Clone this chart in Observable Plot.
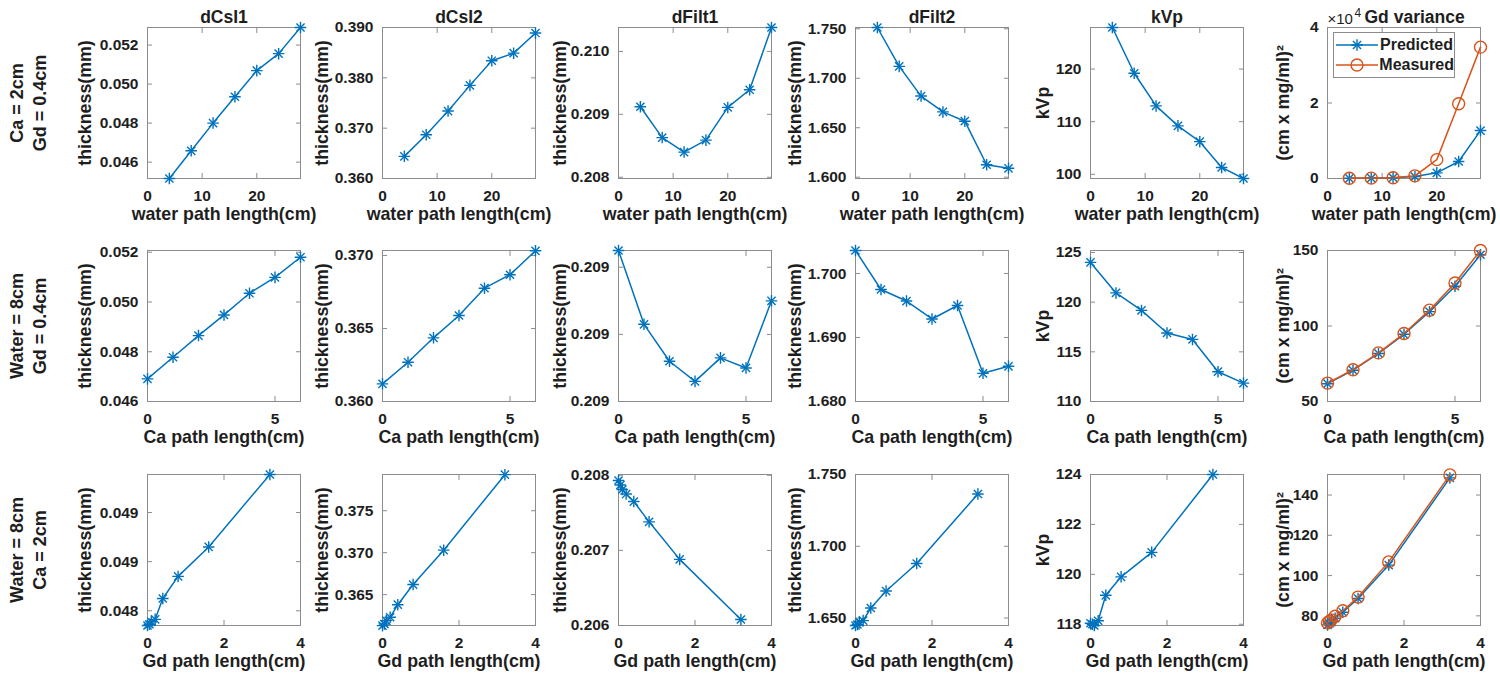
<!DOCTYPE html>
<html>
<head>
<meta charset="utf-8">
<script src="https://cdn.jsdelivr.net/npm/d3@7"></script>
<script src="https://cdn.jsdelivr.net/npm/@observablehq/plot@0.6"></script>
<style>
  body { margin: 0; background: #fff; font-family: "Liberation Sans", Arial, sans-serif; }
  #wrap { position: relative; width: 1500px; height: 683px; overflow: hidden; background: #fff; }
  #wrap svg.panel { position: absolute; overflow: visible; }
  #legend { position: absolute; background: #fff; border: 1px solid #8c8c8c; box-sizing: border-box;
            font: bold 16px "Liberation Sans", Arial, sans-serif; color: #1e1e1e; }
  #legend .item { display: flex; align-items: center; height: 20px; }
  #legend svg { display: block; }
</style>
</head>
<body>
<div id="wrap"></div>
<script>
// ---------------- data ----------------
const titles = ["dCsI1", "dCsI2", "dFilt1", "dFilt2", "kVp", "Gd variance"];
const xLabels = ["water path length(cm)", "Ca path length(cm)", "Gd path length(cm)"];
const yLabels = ["thickness(mm)", "thickness(mm)", "thickness(mm)", "thickness(mm)", "kVp", "(cm x mg/ml)\u00B2"];
const rowLabels = [["Ca = 2cm", "Gd = 0.4cm"], ["Water = 8cm", "Gd = 0.4cm"], ["Water = 8cm", "Ca = 2cm"]];
const seriesNames = ["Predicted", "Measured"];

// x values per row
const waterX = [4, 8, 12, 16, 20, 24, 28];
const caX = [0, 1, 2, 3, 4, 5, 6];
const gdX = [0, 0.05, 0.1, 0.2, 0.4, 0.8, 1.6, 3.2];

// x tick labels per row
const waterTicks = [0, 10, 20];
const caTicks = [0, 5];
const gdTicks = [0, 2, 4];

// Row 1: varying water (Ca = 2cm, Gd = 0.4cm)
const w_dCsI1 = [0.04516, 0.04658, 0.04800, 0.04935, 0.05069, 0.05156, 0.05290];
const w_dCsI2 = [0.3644, 0.3687, 0.3734, 0.3785, 0.3834, 0.3849, 0.3889];
const w_dFilt1 = [0.20912, 0.20863, 0.20840, 0.20859, 0.20911, 0.20939, 0.21038];
const w_dFilt2 = [1.7513, 1.712, 1.682, 1.666, 1.6566, 1.6126, 1.609];
const w_kVp = [127.9, 119.2, 113.0, 109.2, 106.2, 101.3, 99.2];
const w_varPred = [0.005, 0.01, 0.02, 0.05, 0.15, 0.45, 1.27];   // x10^4
const w_varMeas = [0.005, 0.01, 0.02, 0.07, 0.50, 1.98, 3.48];   // x10^4

// Row 2: varying Ca (Water = 8cm, Gd = 0.4cm)
const c_dCsI1 = [0.04691, 0.04778, 0.04865, 0.04948, 0.05035, 0.05099, 0.05180];
const c_dCsI2 = [0.36121, 0.36269, 0.36436, 0.36589, 0.36776, 0.36868, 0.37032];
const c_dFilt1 = [0.20925, 0.20903, 0.20892, 0.20886, 0.20893, 0.20890, 0.20910];
const c_dFilt2 = [1.7036, 1.6975, 1.6957, 1.6929, 1.6950, 1.6844, 1.6855];
const c_kVp = [124.0, 120.93, 119.17, 116.9, 116.25, 113.0, 111.85];
const c_varPred = [61.8, 70.7, 81.8, 94.5, 109.5, 126.3, 147.2];
const c_varMeas = [62.2, 71.0, 82.2, 95.0, 110.5, 128.5, 150.0];

// Row 3: varying Gd (Water = 8cm, Ca = 2cm)
const g_dCsI1 = [0.04808, 0.04809, 0.04811, 0.04813, 0.04830, 0.04848, 0.04872, 0.04931];
const g_dCsI2 = [0.3613, 0.3615, 0.3619, 0.3623, 0.3638, 0.3662, 0.3703, 0.3793];
const g_dFilt1 = [0.20793, 0.20787, 0.20781, 0.20775, 0.20765, 0.20738, 0.20688, 0.20608];
const g_dFilt2 = [1.6448, 1.6455, 1.6472, 1.6482, 1.6570, 1.6688, 1.6880, 1.7364];
const g_kVp = [118.04, 118.0, 117.95, 118.14, 119.16, 119.9, 120.88, 124.0];
const g_varPred = [75.5, 76.2, 76.8, 78.8, 81.8, 88.6, 105.2, 148.5];
const g_varMeas = [76.5, 77.2, 78.0, 79.8, 82.5, 89.3, 106.8, 150.0];

// y tick values per panel
const yTicksRow1 = [[0.046, 0.048, 0.050, 0.052], [0.360, 0.370, 0.380, 0.390], [0.208, 0.209, 0.210], [1.600, 1.650, 1.700, 1.750], [100, 110, 120], [0, 2, 4]];
const yTicksRow2 = [[0.046, 0.048, 0.050, 0.052], [0.360, 0.365, 0.370], [0.2088, 0.2090, 0.2092], [1.680, 1.690, 1.700], [110, 115, 120, 125], [50, 100, 150]];
const yTicksRow3 = [[0.0482, 0.0486, 0.0490], [0.365, 0.370, 0.375], [0.206, 0.207, 0.208], [1.650, 1.700, 1.750], [118, 120, 122, 124], [80, 100, 120, 140]];

// ---------------- layout / style ----------------
const blue = "#0072BD", orange = "#D95319";
const frameColor = "#8c8c8c", textColor = "#1e1e1e";
const FONT = "'Liberation Sans', Arial, sans-serif";
const boxLeft = [147, 382, 618, 855, 1090, 1327];
const boxTop = [27, 250, 474];
const BW = 153, BH = 151;
const ML = 75, MR = 15, MT = 27, MB = 55;
const yLabelDx = [-62, -60, -58, -60, -47, -44];

const rows = [
  { x: waterX, xDomain: [0, 28], xTicks: waterTicks,
    ys: [[w_dCsI1], [w_dCsI2], [w_dFilt1], [w_dFilt2], [w_kVp], [w_varPred, w_varMeas]],
    yDomains: [[0.04516, 0.0529], [0.360, 0.390], [0.20798, 0.21038], [1.5987, 1.7513], [99.2, 127.9], [0, 4]],
    yTicks: yTicksRow1 },
  { x: caX, xDomain: [0, 6], xTicks: caTicks,
    ys: [[c_dCsI1], [c_dCsI2], [c_dFilt1], [c_dFilt2], [c_kVp], [c_varPred, c_varMeas]],
    yDomains: [[0.046, 0.05207], [0.360, 0.37034], [0.2088, 0.20925], [1.680, 1.7036], [110, 125.2], [50, 150]],
    yTicks: yTicksRow2 },
  { x: gdX, xDomain: [0, 4], xTicks: gdTicks,
    ys: [[g_dCsI1], [g_dCsI2], [g_dFilt1], [g_dFilt2], [g_kVp], [g_varPred, g_varMeas]],
    yDomains: [[0.04808, 0.04931], [0.36132, 0.37932], [0.206, 0.20801], [1.6448, 1.750], [117.95, 124.0], [75.2, 150.2]],
    yTicks: yTicksRow3 }
];

const wrap = document.getElementById("wrap");

function seriesMarks(data, idx) {
  if (idx === 0) {
    return [
      Plot.line(data, { x: "x", y: "y", stroke: blue, strokeWidth: 1.5 }),
      Plot.dot(data, { x: "x", y: "y", symbol: "plus", r: 3.8, stroke: blue, strokeWidth: 1.4 }),
      Plot.dot(data, { x: "x", y: "y", symbol: "times", r: 3.8, stroke: blue, strokeWidth: 1.4 })
    ];
  }
  return [
    Plot.line(data, { x: "x", y: "y", stroke: orange, strokeWidth: 1.5 }),
    Plot.dot(data, { x: "x", y: "y", symbol: "circle", r: 6, stroke: orange, fill: "none", strokeWidth: 1.4 })
  ];
}

const labelStyle = { fontSize: 17.8, fontWeight: "bold", fill: textColor };

rows.forEach((row, r) => {
  row.ys.forEach((seriesList, c) => {
    const yFmt = c < 4 ? d3.format(".3f") : (d => String(d));
    const marks = [
      Plot.frame({ stroke: frameColor, strokeWidth: 1 }),
      Plot.axisX({ anchor: "bottom", ticks: row.xTicks, tickSize: -5, tickPadding: 16, tickFormat: d => String(d),
                   label: null, stroke: frameColor, fill: textColor }),
      Plot.axisX({ anchor: "top", ticks: row.xTicks, tickSize: -5, tickFormat: () => "", label: null, stroke: frameColor }),
      Plot.axisY({ anchor: "left", ticks: row.yTicks[c], tickSize: -5, tickPadding: 14, tickFormat: yFmt,
                   label: null, stroke: frameColor, fill: textColor }),
      Plot.axisY({ anchor: "right", ticks: row.yTicks[c], tickSize: -5, tickFormat: () => "", label: null, stroke: frameColor }),
      Plot.text([xLabels[r]], { text: d => d, frameAnchor: "bottom", textAnchor: "middle", lineAnchor: "middle", dy: 36, ...labelStyle }),
      Plot.text([yLabels[c]], { text: d => d, frameAnchor: "left", textAnchor: "middle", lineAnchor: "middle", dx: yLabelDx[c], rotate: -90, ...labelStyle })
    ];
    if (r === 0) {
      if (c === 5) {
        marks.push(Plot.text(["\u00D710"], { text: d => d, frameAnchor: "top-left", textAnchor: "start", lineAnchor: "middle", dy: -8, dx: 0, fontSize: 15, fontWeight: "normal", fill: textColor }));
        marks.push(Plot.text(["4"], { text: d => d, frameAnchor: "top-left", textAnchor: "start", lineAnchor: "middle", dy: -14, dx: 27, fontSize: 12, fontWeight: "normal", fill: textColor }));
        marks.push(Plot.text([titles[c]], { text: d => d, frameAnchor: "top-left", textAnchor: "start", lineAnchor: "middle", dy: -10, dx: 37, fontSize: 17.5, fontWeight: "bold", fill: textColor }));
      } else {
        marks.push(Plot.text([titles[c]], { text: d => d, frameAnchor: "top", textAnchor: "middle", lineAnchor: "middle", dy: -10, fontSize: 17.5, fontWeight: "bold", fill: textColor }));
      }
    }
    if (c === 0) {
      marks.push(Plot.text([rowLabels[r][0]], { text: d => d, frameAnchor: "left", textAnchor: "middle", lineAnchor: "middle", dx: -130, rotate: -90, ...labelStyle, fontSize: 18 }));
      marks.push(Plot.text([rowLabels[r][1]], { text: d => d, frameAnchor: "left", textAnchor: "middle", lineAnchor: "middle", dx: -107, rotate: -90, ...labelStyle, fontSize: 18 }));
    }
    seriesList.forEach((vals, i) => {
      const data = row.x.map((xv, k) => ({ x: xv, y: vals[k] }));
      marks.push(...seriesMarks(data, i));
    });

    const svg = Plot.plot({
      width: ML + BW + MR,
      height: MT + BH + MB,
      marginLeft: ML, marginRight: MR, marginTop: MT, marginBottom: MB,
      x: { type: "linear", domain: row.xDomain },
      y: { type: "linear", domain: row.yDomains[c] },
      style: { fontFamily: FONT, fontSize: "15.5px", fontWeight: "bold", color: textColor, background: "transparent", overflow: "visible" },
      marks
    });
    svg.classList.add("panel");
    svg.style.left = (boxLeft[c] - ML) + "px";
    svg.style.top = (boxTop[r] - MT) + "px";
    wrap.appendChild(svg);
  });
});

// ---------------- legend (inside the Gd variance panel of row 1) ----------------
const legend = document.createElement("div");
legend.id = "legend";
legend.style.left = "1333px";
legend.style.top = "32px";
legend.style.width = "122px";
legend.style.height = "46px";
legend.style.padding = "2px 0 0 0";
const colors = [blue, orange];
seriesNames.forEach((name, i) => {
  const item = document.createElement("div");
  item.className = "item";
  const ns = "http://www.w3.org/2000/svg";
  const s = document.createElementNS(ns, "svg");
  s.setAttribute("width", 46); s.setAttribute("height", 20);
  const ln = document.createElementNS(ns, "line");
  ln.setAttribute("x1", 2); ln.setAttribute("x2", 44); ln.setAttribute("y1", 10); ln.setAttribute("y2", 10);
  ln.setAttribute("stroke", colors[i]); ln.setAttribute("stroke-width", 1.5);
  s.appendChild(ln);
  const syms = i === 0 ? [d3.symbolPlus, d3.symbolTimes] : [d3.symbolCircle];
  const r = i === 0 ? 3.8 : 6;
  syms.forEach(sym => {
    const p = document.createElementNS(ns, "path");
    p.setAttribute("d", d3.symbol(sym, Math.PI * r * r)());
    p.setAttribute("transform", "translate(23,10)");
    p.setAttribute("fill", "none");
    p.setAttribute("stroke", colors[i]);
    p.setAttribute("stroke-width", i === 0 ? 1.4 : 1.4);
    s.appendChild(p);
  });
  item.appendChild(s);
  const t = document.createElement("span");
  t.textContent = name;
  item.appendChild(t);
  legend.appendChild(item);
});
wrap.appendChild(legend);
</script>
</body>
</html>
